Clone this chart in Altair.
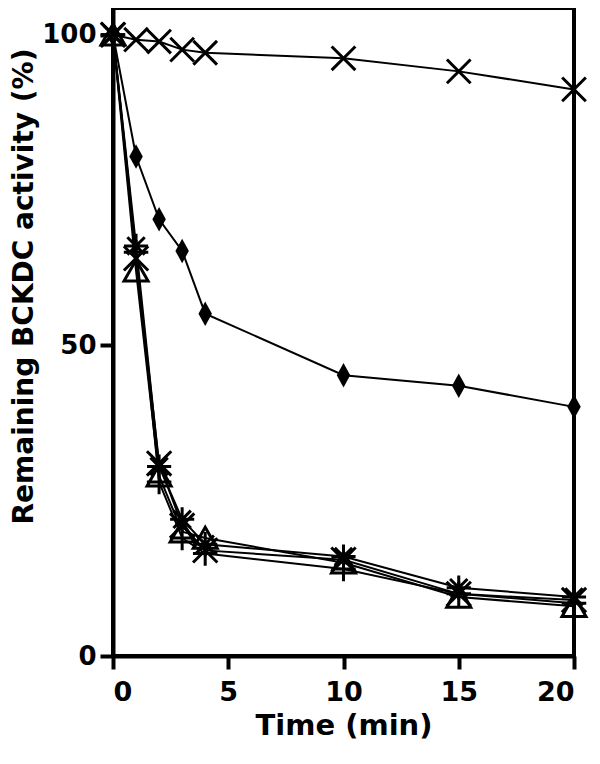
import altair as alt
import pandas as pd

times = [0, 1, 2, 3, 4, 10, 15, 20]

series_names = ["cross_top", "diamond", "triangle", "asterisk", "cross_low", "plus"]
cross_top = [100, 99.2, 98.9, 97.6, 97.1, 96.2, 94.1, 91.2]
diamond = [100, 80.4, 70.3, 65.2, 55.1, 45.2, 43.5, 40.1]
triangle = [100, 62, 29, 20, 19, 15, 9.5, 8]
asterisk = [100, 66, 30.5, 22, 18, 16, 11, 9.5]
cross_low = [100, 64, 31, 21, 17, 15.5, 10, 9]
plus = [100, 65, 28, 19, 16.5, 14, 10, 8.5]

series_values = [cross_top, diamond, triangle, asterisk, cross_low, plus]

shape_paths = [
    "M-1,-1L1,1M-1,1L1,-1",
    "M0,-1L0.55,0L0,1L-0.55,0Z",
    "M0,-0.9L1,0.85L-1,0.85Z",
    "M-1,0L1,0M0,-1L0,1M-0.72,-0.72L0.72,0.72M-0.72,0.72L0.72,-0.72",
    "M-1,-1L1,1M-1,1L1,-1",
    "M-1,0L1,0M0,-1L0,1",
]
shape_sizes = [560, 600, 480, 600, 500, 600]

rows = []
for name, vals in zip(series_names, series_values):
    for t, v in zip(times, vals):
        rows.append({"time": t, "value": v, "series": name})
df = pd.DataFrame(rows)

FONT = "DejaVu Sans"

x = alt.X(
    "time:Q",
    scale=alt.Scale(domain=[0, 20], nice=False, zero=False),
    axis=alt.Axis(values=[0, 5, 10, 15, 20], title="Time (min)", titlePadding=6, labelPadding=10),
)
y = alt.Y(
    "value:Q",
    scale=alt.Scale(domain=[0, 104.3], nice=False),
    axis=alt.Axis(
        values=[0, 50, 100],
        title="Remaining BCKDC activity (%)",
        titlePadding=3,
        labelPadding=4,
        labelFontSize=26,
        titleFontSize=28,
        titleY=278,
    ),
)

base = alt.Chart(df)

lines = base.mark_line(color="black", strokeWidth=2, clip=False).encode(
    x=x, y=y, detail="series:N", order="time:Q"
)

open_pts = base.transform_filter(alt.datum.series != "diamond").mark_point(
    filled=False, color="black", strokeWidth=3, opacity=1, clip=False
).encode(
    x=x,
    y=y,
    shape=alt.Shape("series:N", scale=alt.Scale(domain=series_names, range=shape_paths), legend=None),
    size=alt.Size("series:O", scale=alt.Scale(domain=series_names, range=shape_sizes), legend=None),
)

filled_pts = base.transform_filter(alt.datum.series == "diamond").mark_point(
    filled=True, color="black", opacity=1, shape="M0,-1L0.55,0L0,1L-0.55,0Z", size=600, clip=False
).encode(x=x, y=y)

chart = (
    alt.layer(lines, open_pts, filled_pts)
    .properties(
        width=461,
        height=648,
        autosize=alt.AutoSizeParams(type="none"),
        padding={"left": 105, "top": 0, "right": 18, "bottom": 100},
    )
    .configure_view(stroke="black", strokeWidth=4)
    .configure_axis(
        grid=False,
        domainColor="black",
        domainWidth=4,
        tickColor="black",
        tickWidth=4,
        tickSize=13,
        labelFont=FONT,
        labelFontWeight="bold",
        labelFontSize=27,
        labelColor="black",
        titleFont=FONT,
        titleFontWeight="bold",
        titleFontSize=29,
        titleColor="black",
    )
)

chart.save("out.html", embed_options={"renderer": "svg", "actions": False})
